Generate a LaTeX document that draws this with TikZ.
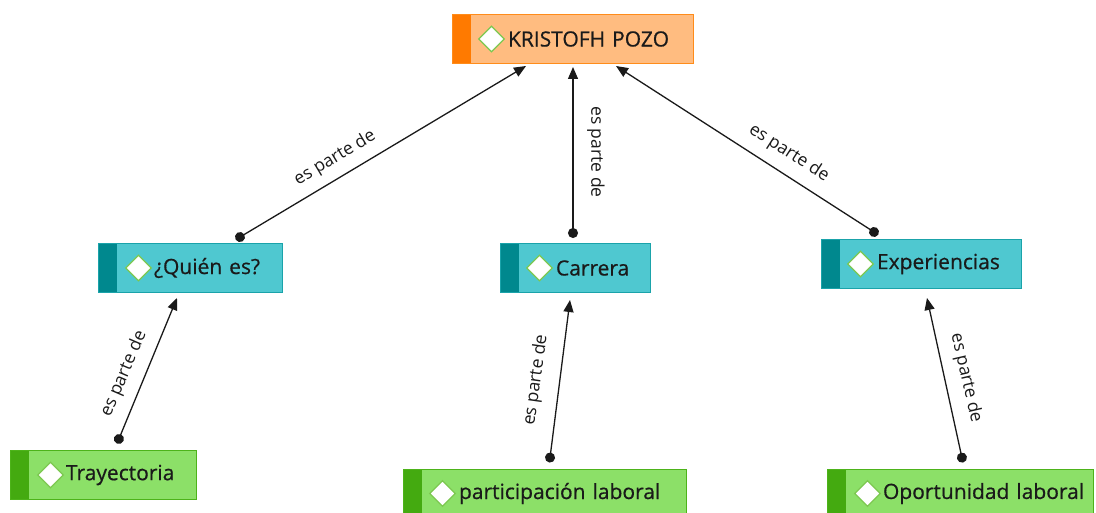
\documentclass[tikz,border=0pt]{standalone}
\usepackage{fontspec}
\setmainfont{Open Sans}
\newfontfamily\boxfont{Open Sans}[FakeBold=0.6]
\usetikzlibrary{arrows.meta,shapes.geometric}
\definecolor{orfill}{HTML}{FFBC80}
\definecolor{orbar}{HTML}{FF7A00}
\definecolor{orline}{HTML}{FF8C1A}
\definecolor{tlfill}{HTML}{4FC8D0}
\definecolor{tlbar}{HTML}{00888E}
\definecolor{tlline}{HTML}{1AA3AA}
\definecolor{grfill}{HTML}{8CE068}
\definecolor{grbar}{HTML}{44AA10}
\definecolor{grline}{HTML}{4DB31A}
\definecolor{dmline}{HTML}{7CC850}
\definecolor{txt}{HTML}{1A1A1A}
\tikzset{
  cbox/.style 2 args={draw=#1line, fill=#1fill, line width=1pt,
    minimum width=#2, text width=#2, minimum height=49pt,
    inner xsep=0pt, inner ysep=0pt, align=left,
    font=\boxfont\fontsize{21}{24}\selectfont, text=txt,
    path picture={\fill[#1bar] (path picture bounding box.north west)
      rectangle ([xshift=19pt]path picture bounding box.south west);}},
  dmd/.style={diamond, draw=dmline, fill=white, line width=1.2pt,
    minimum width=26pt, minimum height=26pt, inner sep=0pt},
  link/.style={line width=1.3pt, txt,
    {Circle[length=10pt]}-{Triangle[length=12pt,width=10pt]}},
  lab/.style={font=\fontsize{17.5}{20}\selectfont, text=txt, inner sep=0pt}
}
\begin{document}
\begin{tikzpicture}[x=1pt,y=-1pt]
\fill[white] (0,0) rectangle (1096,513);
\useasboundingbox (0,0) rectangle (1096,513);

\node[cbox={or}{241pt}] (k) at (572.5,39) {\hspace*{56pt}KRISTOFH POZO};
\node[cbox={tl}{184pt}] (q) at (190,268) {\hspace*{56pt}¿Quién es?};
\node[cbox={tl}{150pt}] (c) at (575,268) {\hspace*{56pt}Carrera};
\node[cbox={tl}{200pt}] (e) at (921,264) {\hspace*{56pt}Experiencias};
\node[cbox={gr}{186pt}] (t) at (103,475) {\hspace*{56pt}Trayectoria};
\node[cbox={gr}{283pt}] (p) at (544.5,493.5) {\hspace*{56pt}participación laboral};
\node[cbox={gr}{266pt}] (o) at (960,493.5) {\hspace*{56pt}Oportunidad laboral};

\node[dmd] (kd) at ([xshift=40pt]k.west) {};
\node[dmd] (qd) at ([xshift=41pt]q.west) {};
\node[dmd] (cd) at ([xshift=40pt]c.west) {};
\node[dmd] (ed) at ([xshift=40pt]e.west) {};
\node[dmd] (td) at ([xshift=41pt]t.west) {};
\node[dmd] (pd) at ([xshift=40pt]p.west) {};
\node[dmd] (od) at ([xshift=41pt]o.west) {};

\draw[link] ([shift={(45.7,-3.4)}]q.north) -- ([shift={(-46.5,2)}]k.south);
\draw[link] ([shift={(-2,-5)}]c.north) -- ([shift={(0.5,3)}]k.south);
\draw[link] ([shift={(-42.8,-4.3)}]e.north) -- ([shift={(43.5,2)}]k.south);
\draw[link] ([shift={(14,-6.4)}]t.north) -- ([shift={(-13,5)}]q.south);
\draw[link] ([shift={(4.9,-6)}]p.north) -- ([shift={(-5,7)}]c.south);
\draw[link] ([shift={(3,-6)}]o.north) -- ([shift={(6,9)}]e.south);

\node[lab, rotate=30.8] (l1) at (335,158) {es parte de};
\node[lab, rotate=-90] (l2) at (596,152) {es parte de};
\node[lab, rotate=-32.7] (l3) at (789,153) {es parte de};
\node[lab, rotate=66.8] (l4) at (124,374) {es parte de};
\node[lab, rotate=82] (l5) at (536,380) {es parte de};
\node[lab, rotate=-77] (l6) at (966,378) {es parte de};
\end{tikzpicture}
\end{document}
